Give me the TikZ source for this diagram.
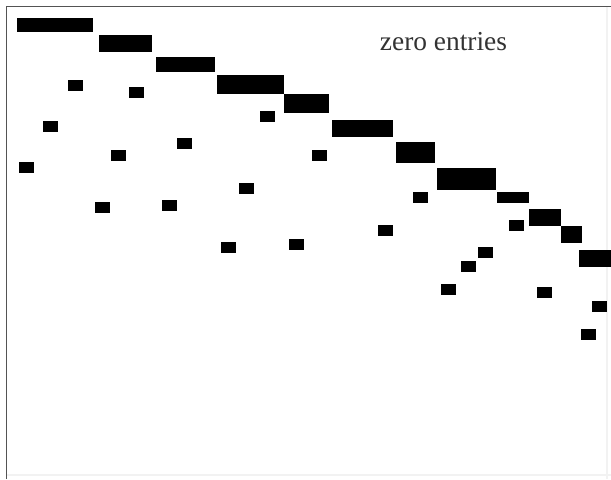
\documentclass[tikz,border=0pt]{standalone}
\usepackage{fontspec}
\setmainfont{Liberation Serif}
\usetikzlibrary{positioning}
\tikzset{
    bar/.style={fill=black},
    entry/.style={fill=black},
    framestyle/.style={draw=gray!65!black, line width=0.8pt},
    faintframe/.style={draw=gray!10, line width=0.6pt},
    lbl/.style={font=\fontsize{13.7}{16}\selectfont, text=black!80, inner sep=0pt, anchor=base}
}
\begin{document}
\begin{tikzpicture}[x=0.5pt, y=-0.5pt]
    \useasboundingbox (0,0) rectangle (611,479);
    % frame
    \draw[faintframe] (607,7) -- (607,479);
    \draw[faintframe] (7,475) -- (611,475);
    \draw[framestyle] (6.5,479) -- (6.5,6.5) -- (611,6.5);

    \node[lbl] (zerolbl) at (443.5,50.7) {zero entries};

    % nonzero blocks along the diagonal
    \fill[bar] (17,18) rectangle (93,32);
    \fill[bar] (99,35) rectangle (152,52);
    \fill[bar] (156,57) rectangle (215,72);
    \fill[bar] (217,75) rectangle (284,94);
    \fill[bar] (284,94) rectangle (329,113);
    \fill[bar] (332,120) rectangle (393,137);
    \fill[bar] (396,142) rectangle (435,163);
    \fill[bar] (437,168) rectangle (496,190);
    \fill[bar] (497,192) rectangle (529,203);
    \fill[bar] (529,209) rectangle (561,226);
    \fill[bar] (561,226) rectangle (582,243);
    \fill[bar] (579,250) rectangle (611,267);

    % single entries below the diagonal
    \fill[entry] (68,80) rectangle ++(15,11);
    \fill[entry] (129,87) rectangle ++(15,11);
    \fill[entry] (43,121) rectangle ++(15,11);
    \fill[entry] (260,111) rectangle ++(15,11);
    \fill[entry] (177,138) rectangle ++(15,11);
    \fill[entry] (111,150) rectangle ++(15,11);
    \fill[entry] (19,162) rectangle ++(15,11);
    \fill[entry] (239,183) rectangle ++(15,11);
    \fill[entry] (95,202) rectangle ++(15,11);
    \fill[entry] (162,200) rectangle ++(15,11);
    \fill[entry] (289,239) rectangle ++(15,11);
    \fill[entry] (221,242) rectangle ++(15,11);
    \fill[entry] (312,150) rectangle ++(15,11);
    \fill[entry] (413,192) rectangle ++(15,11);
    \fill[entry] (509,220) rectangle ++(15,11);
    \fill[entry] (378,225) rectangle ++(15,11);
    \fill[entry] (478,247) rectangle ++(15,11);
    \fill[entry] (461,261) rectangle ++(15,11);
    \fill[entry] (441,284) rectangle ++(15,11);
    \fill[entry] (537,287) rectangle ++(15,11);
    \fill[entry] (592,301) rectangle ++(15,11);
    \fill[entry] (581,329) rectangle ++(15,11);
\end{tikzpicture}
\end{document}
